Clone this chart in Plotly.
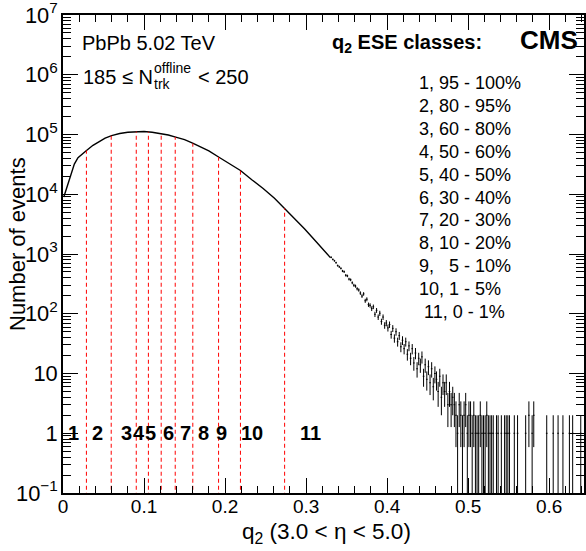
import numpy as np
import plotly.graph_objects as go

# ---------------- data ----------------
# smooth part of the q2 distribution
curve_q2 = [0.001, 0.004, 0.007, 0.010, 0.014, 0.0185, 0.024, 0.029, 0.037, 0.045,
            0.052, 0.060, 0.070, 0.080, 0.090, 0.100, 0.110, 0.121, 0.130, 0.138,
            0.150, 0.160, 0.170, 0.180, 0.192, 0.205, 0.219, 0.233, 0.247, 0.261,
            0.2735, 0.285, 0.298, 0.310, 0.320, 0.330]
curve_counts = [9.0e3, 1.2e4, 1.7e4, 2.3e4, 3.2e4, 4.1e4, 4.8e4, 5.4e4, 6.6e4, 7.7e4,
                8.7e4, 9.6e4, 1.04e5, 1.09e5, 1.12e5, 1.12e5, 1.09e5, 1.04e5, 9.8e4, 9.1e4,
                8.2e4, 7.2e4, 6.2e4, 5.3e4, 4.2e4, 3.3e4, 2.5e4, 1.75e4, 1.25e4, 8.6e3,
                5.8e3, 4.0e3, 2.65e3, 1.75e3, 1.23e3, 870]

# noisy tail: bins of width 0.002 starting at q2 = 0.33
tail_start = 0.33
tail_width = 0.002
tail_counts = [
    880, 812, 770, 715, 640,
    610, 575, 520, 505, 440,
    430, 380, 370, 330, 300,
    290, 262, 250, 222, 198,
    215, 165, 175, 142, 138,
    122, 131, 98, 114, 88,
    102, 74, 88, 64, 70,
    58, 66, 45, 57, 39,
    50, 34, 43, 28, 36,
    26, 34, 21, 29, 18,
    26, 15, 22, 12, 18,
    14, 19, 9, 14, 8,
    13, 7, 12, 6, 10,
    8, 5, 9, 4, 7,
    5, 7, 3, 5, 3,
    4, 3, 2, 1, 3,
    2, 1, 2, 3, 1,
    2, 2, 1, 2, 1,
    1, 1, 2, 1, 1,
    1, 2, 1, 1, 1,
    1, 0, 1, 1, 0,
    1, 0, 1, 1, 1,
    1, 0, 0, 1, 0,
    1, 0, 0, 0, 0,
    1, 0, 2, 0, 1,
    2, 0, 0, 0, 0,
    0, 0, 0, 1, 0,
    0, 0, 1, 0, 0,
    1, 0, 0, 1, 0,
    0, 0, 1, 0, 1,
    0, 0, 0, 0, 1,
    0, 0,
]

# ESE class boundaries (red dashed lines) and the histogram height there
boundary_q2 = [0.0289, 0.0595, 0.0904, 0.1054, 0.1212, 0.1385, 0.1602, 0.1920, 0.2190, 0.2735]
boundary_counts = [5.4e4, 9.6e4, 1.12e5, 1.11e5, 1.04e5, 9.1e4, 7.1e4, 4.2e4, 2.5e4, 5.8e3]

# class numbers written inside the plot
class_labels = ["1", "2", "3", "4", "5", "6", "7", "8", "9", "10", "11"]
class_label_q2 = [0.0132, 0.0428, 0.0786, 0.0935, 0.1080, 0.1300, 0.1510, 0.1740, 0.1960, 0.2330, 0.3050]
class_label_level = 1.0

# list of classes
class_ranges = ["1, 95 - 100%", "2, 80 - 95%", "3, 60 - 80%", "4, 50 - 60%",
                "5, 40 - 50%", "6, 30 - 40%", "7, 20 - 30%", "8, 10 - 20%",
                "9,\u00a0\u00a0 5 - 10%", "10, 1 - 5%", "\u00a011, 0 - 1%"]

x_range = [0.0, 0.643]
y_range_log = [-1.0001, 7.0001]

# ---------------- geometry helpers ----------------
W, H = 586, 551
ML, MR, MT, MB = 63, 2, 15, 58
PW, PH = W - ML - MR, H - MT - MB


def px(xp):
    return (xp - ML) / PW


def py(yp):
    return (MT + PH - yp) / PH


FONT = "Liberation Sans, Arial, Helvetica, sans-serif"

fig = go.Figure()

# smooth curve
fig.add_trace(go.Scatter(x=curve_q2, y=curve_counts, mode="lines",
                         line=dict(color="black", width=1.4), hoverinfo="skip",
                         showlegend=False))

# tail histogram with sqrt(N) error bars
floor = 10 ** (y_range_log[0] - 1)
seg_x, seg_y = [], []
for i, n in enumerate(tail_counts):
    if n <= 0:
        continue
    lo_edge = tail_start + i * tail_width
    hi_edge = lo_edge + tail_width
    c = 0.5 * (lo_edge + hi_edge)
    err = np.sqrt(n)
    seg_x += [lo_edge, hi_edge, None, c, c, None]
    seg_y += [n, n, None, max(n - err, floor), n + err, None]
fig.add_trace(go.Scatter(x=seg_x, y=seg_y, mode="lines",
                         line=dict(color="black", width=1), hoverinfo="skip",
                         showlegend=False))

# red dashed class boundaries
bx, by = [], []
for b, h in zip(boundary_q2, boundary_counts):
    bx += [b, b, None]
    by += [floor, h, None]
fig.add_trace(go.Scatter(x=bx, y=by, mode="lines",
                         line=dict(color="#ff0000", width=1, dash="4px,3px"),
                         hoverinfo="skip", showlegend=False))

ann = []
# class numbers
for lab, xq in zip(class_labels, class_label_q2):
    ann.append(dict(x=xq, y=np.log10(class_label_level), xref="x", yref="y",
                    text="<b>%s</b>" % lab, showarrow=False,
                    font=dict(family=FONT, size=20, color="black"),
                    xanchor="center", yanchor="middle"))

# class list
for k, t in enumerate(class_ranges):
    ann.append(dict(x=px(417), y=py(83.3 + k * 22.84), xref="paper", yref="paper",
                    text=t, showarrow=False, xanchor="left", yanchor="middle",
                    font=dict(family=FONT, size=18, color="black")))

# header texts
ann.append(dict(x=px(80), y=py(43), xref="paper", yref="paper", text="PbPb 5.02 TeV",
                showarrow=False, xanchor="left", yanchor="middle",
                font=dict(family=FONT, size=20, color="black")))
ann.append(dict(x=px(81), y=py(77), xref="paper", yref="paper", text="185 \u2264 N",
                showarrow=False, xanchor="left", yanchor="middle",
                font=dict(family=FONT, size=20, color="black")))
ann.append(dict(x=px(152), y=py(68), xref="paper", yref="paper", text="offline",
                showarrow=False, xanchor="left", yanchor="middle",
                font=dict(family=FONT, size=14, color="black")))
ann.append(dict(x=px(152), y=py(84), xref="paper", yref="paper", text="trk",
                showarrow=False, xanchor="left", yanchor="middle",
                font=dict(family=FONT, size=14, color="black")))
ann.append(dict(x=px(196), y=py(77), xref="paper", yref="paper", text="&lt; 250",
                showarrow=False, xanchor="left", yanchor="middle",
                font=dict(family=FONT, size=20, color="black")))
ann.append(dict(x=px(330), y=py(43), xref="paper", yref="paper",
                text="<b>q<sub>2</sub> ESE classes:</b>",
                showarrow=False, xanchor="left", yanchor="middle",
                font=dict(family=FONT, size=20, color="black")))
ann.append(dict(x=px(549), y=py(40), xref="paper", yref="paper", text="<b>CMS</b>",
                showarrow=False, xanchor="center", yanchor="middle",
                font=dict(family=FONT, size=26, color="black")))

# axis titles
ann.append(dict(x=px(17), y=py(244), xref="paper", yref="paper", text="Number of events",
                textangle=-90, showarrow=False, xanchor="center", yanchor="middle",
                font=dict(family=FONT, size=22, color="black")))
ann.append(dict(x=px(326), y=py(533), xref="paper", yref="paper",
                text="q<sub>2</sub> (3.0 &lt; \u03b7 &lt; 5.0)",
                showarrow=False, xanchor="center", yanchor="middle",
                font=dict(family=FONT, size=22.5, color="black")))

fig.update_layout(
    width=W, height=H,
    margin=dict(l=ML, r=MR, t=MT, b=MB, pad=0, autoexpand=False),
    paper_bgcolor="white", plot_bgcolor="white",
    showlegend=False,
    annotations=ann,
    font=dict(family=FONT, size=19, color="black"),
    xaxis=dict(range=x_range, dtick=0.1, tick0=0, ticks="inside", ticklen=15,
               tickwidth=1, tickcolor="black", showline=True, linecolor="black",
               linewidth=1.5, mirror="ticks", showgrid=False, zeroline=False,
               automargin=False, ticklabelstandoff=-5, ticklabeloverflow="allow",
               tickfont=dict(family=FONT, size=19, color="black"),
               minor=dict(ticks="inside", ticklen=7, dtick=0.02, tickcolor="black",
                          tickwidth=1, showgrid=False)),
    yaxis=dict(type="log", range=y_range_log, dtick=1, exponentformat="power",
               ticks="inside", ticklen=15, tickwidth=1, tickcolor="black",
               showline=True, linecolor="black", linewidth=1.5, mirror="ticks",
               showgrid=False, zeroline=False, automargin=False,
               ticklabeloverflow="allow",
               tickfont=dict(family=FONT, size=17.5, color="black"),
               minor=dict(ticks="inside", ticklen=8, dtick="D1", tickcolor="black",
                          tickwidth=1, showgrid=False)),
)

fig.write_html("out.html", config={"displayModeBar": False},
               post_script="document.body.style.margin='0';"
                           "document.body.style.overflow='hidden';")
